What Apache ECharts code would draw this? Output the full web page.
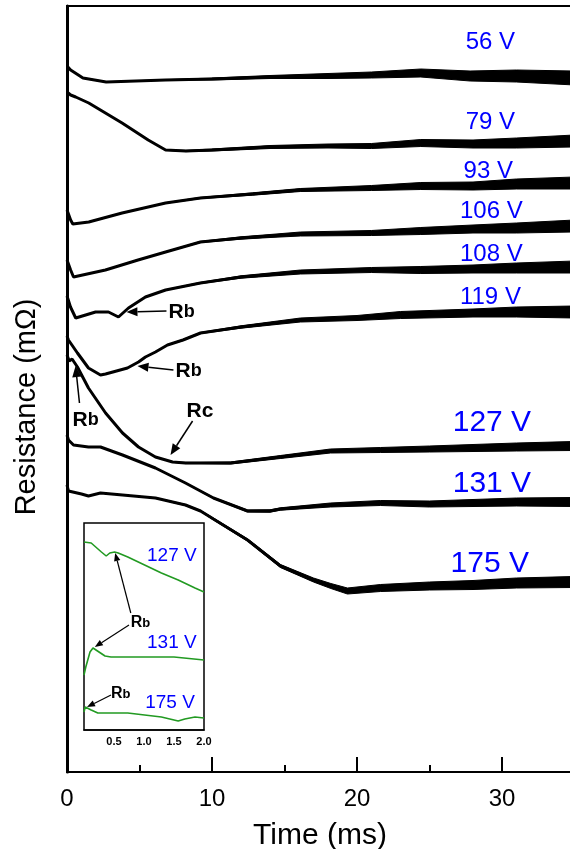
<!DOCTYPE html>
<html><head><meta charset="utf-8">
<script src="https://cdn.jsdelivr.net/npm/echarts@6/dist/echarts.min.js"></script>
<style>html,body{margin:0;padding:0;background:#fff}#c{width:570px;height:849px}</style>
</head><body><div id="c"></div>
<script>
// ---- Main traces: time (ms), vertically offset resistance (arb. units), noise half-width ----
const t56  = [0, 0.25, 1.1, 2.7, 6.8, 10, 14, 18, 21, 24.4, 27.8, 31, 35];
const r56  = [706, 702, 694, 690, 692, 693, 695, 696, 697, 699, 696, 696, 694];
const n56  = [0, 0, 0.3, 0.3, 0.3, 1, 1.5, 2.5, 3, 4, 5, 6, 7];

const t79  = [0, 0.25, 0.6, 1.5, 3.8, 5.6, 6.8, 8.2, 10, 14, 18, 21, 24.4, 28, 31, 35];
const r79  = [680, 677, 675, 669, 649, 632, 622, 621, 622, 625, 626, 626, 629, 628, 629, 631];
const n79  = [0, 0, 0, 0.3, 0.3, 0.3, 0.3, 0.6, 1, 1.5, 2, 2.5, 3.5, 4, 5, 6];

const t93  = [0, 0.25, 0.4, 1.5, 3.8, 6.8, 9.2, 12.8, 16.1, 21, 24.4, 28, 31, 35];
const r93  = [562, 552, 548, 550, 559, 569, 574, 578, 582, 584, 586, 586, 588, 589];
const n93  = [0, 0, 0, 0.3, 0.3, 0.3, 0.6, 1.2, 1.5, 2.5, 3.5, 4, 5, 6];

const t106 = [0, 0.25, 0.45, 2.65, 4.9, 6.8, 9.2, 12, 14, 16.1, 21, 24.4, 28, 31, 35];
const r106 = [512, 502, 495, 502, 512, 520, 530, 534, 536, 538, 539, 541, 543, 544, 546];
const n106 = [0, 0, 0, 0.3, 0.3, 0.3, 0.6, 1.2, 1.5, 2, 2.5, 3.5, 4, 5, 6];

const t108 = [0, 0.24, 0.6, 1.97, 2.86, 3.55, 4.24, 5.41, 6.8, 9.2, 12, 16.1, 21, 24.4, 28, 31, 35];
const r108 = [476, 465, 454, 460, 460, 455, 464, 475, 482, 489, 495, 500, 502, 502, 503, 504, 505];
const n108 = [0, 0, 0, 0, 0, 0, 0, 0.3, 0.3, 0.6, 1.2, 2, 2.5, 3.5, 4, 5, 6];

const t119 = [0, 0.1, 0.72, 1.48, 2.31, 2.66, 4.17, 4.3, 4.93, 5.41, 6.1, 6.93, 8.0, 9.21, 12, 16.1, 20, 23, 28, 31, 35];
const r119 = [436, 432, 419, 404, 397, 398, 404, 405, 410, 415, 420, 427, 432, 439, 445, 452, 454, 457, 459, 460, 460];
const n119 = [0, 0, 0, 0, 0, 0, 0, 0, 0, 0.3, 0.3, 0.3, 0.6, 0.6, 1.2, 2, 2.5, 3.5, 4, 5, 6];

const t127 = [0, 0.15, 0.35, 0.72, 1.48, 2.66, 3.83, 4.93, 6.1, 7.28, 8.17, 9.21, 11.28, 14.72, 18.17, 21.62, 25, 28, 31, 35];
const r127 = [417, 411, 413, 405, 384, 359, 339, 325, 315, 310, 309, 309, 309, 315, 321, 322, 323, 324, 325, 326];
const n127 = [0, 0, 0, 0, 0, 0, 0, 0, 0.3, 0.3, 0.6, 0.6, 1, 1.5, 2, 2.5, 3, 3.5, 4, 4.5];

const t131 = [0, 0.1, 0.45, 1.48, 2.31, 3.83, 6.1, 8.17, 10.1, 12.45, 14, 14.72, 18.17, 21.62, 25, 28, 31, 35];
const r131 = [337, 332, 327, 325, 325, 317, 304, 289, 274, 261, 261, 263, 267, 269, 268, 269, 270, 270];
const n131 = [0, 0, 0, 0, 0, 0, 0.3, 0.3, 0.6, 1, 1.2, 1.2, 2, 2.5, 3, 3.5, 4, 4.5];

const t175 = [0, 0.1, 1.0, 1.48, 2.31, 3.83, 6.1, 8.17, 9.21, 10.1, 12.45, 14.72, 17.0, 18.2, 19.34, 21.62, 25, 28, 31, 35];
const r175 = [287, 281, 278, 276, 279, 277, 274, 267, 261, 253, 232, 206, 192, 186, 181, 184, 186, 187, 189, 190];
const n175 = [0, 0, 0, 0, 0, 0, 0.3, 0.6, 0.6, 1, 1.2, 1.5, 2, 2.5, 3, 3.5, 4, 4.5, 5, 5.5];

// ---- Inset traces (0-2 ms) ----
const it127 = [0, 0.02, 0.12, 0.29, 0.37, 0.43, 0.51, 0.57, 0.73, 1.01, 1.29, 1.57, 1.85, 2.0];
const iv127 = [188, 189, 187, 178, 174, 177, 178, 177, 173, 165, 157, 150, 142, 138];
const it131 = [0, 0.03, 0.1, 0.15, 0.2, 0.35, 0.45, 1.0, 1.5, 2.0];
const iv131 = [55, 63, 78, 82, 80, 74, 73, 73, 73, 70];
const it175 = [0, 0.02, 0.05, 0.12, 0.23, 0.73, 1.29, 1.57, 1.68, 1.85, 2.0];
const iv175 = [18, 23, 24, 20, 17, 17, 13, 9, 11, 13, 12];

// ---- Text annotations ----
const voltLabels = ['56 V', '79 V', '93 V', '106 V', '108 V', '119 V', '127 V', '131 V', '175 V'];
const voltLabelT = [27.5, 27.5, 27.35, 27.1, 27.1, 27.1, 26.6, 26.6, 26.45];
const voltLabelR = [730, 650, 601, 561, 518, 475, 349, 288, 208];
const voltLabelSize = [24, 24, 24, 24, 24, 24, 30, 30, 30];
const insetLabels = ['127 V', '131 V', '175 V'];
const insetLabelT = [1.05, 1.05, 1.02];
const insetLabelR = [174, 87, 27];

const FONT = '"Liberation Sans", Arial, sans-serif';
const chart = echarts.init(document.getElementById('c'));

const mainTraces = [[t56,r56,n56],[t79,r79,n79],[t93,r93,n93],[t106,r106,n106],[t108,r108,n108],
  [t119,r119,n119],[t127,r127,n127],[t131,r131,n131],[t175,r175,n175]];
const insetTraces = [[it127,iv127],[it131,iv131],[it175,iv175]];

const series = [];
mainTraces.forEach(([t, r, n]) => {
  series.push({
    type: 'custom', coordinateSystem: 'cartesian2d', xAxisIndex: 0, yAxisIndex: 0,
    data: t.map((x, i) => [x, r[i]]), silent: true, z: 2,
    renderItem(params, api) {
      if (params.dataIndex !== 0) return null;
      const up = [], lo = [];
      for (let i = 0; i < t.length; i++) {
        up.push(api.coord([t[i], r[i] + n[i]]));
        lo.push(api.coord([t[i], r[i] - n[i]]));
      }
      return { type: 'polygon', shape: { points: up.concat(lo.reverse()) },
        style: { fill: '#000', stroke: '#000', lineWidth: 1 } };
    }
  });
  series.push({
    type: 'line', xAxisIndex: 0, yAxisIndex: 0, data: t.map((x, i) => [x, r[i]]),
    symbol: 'none', lineStyle: { color: '#000', width: 3 }, z: 3, silent: true
  });
});
insetTraces.forEach(([t, r]) => {
  series.push({
    type: 'line', xAxisIndex: 1, yAxisIndex: 1, data: t.map((x, i) => [x, r[i]]),
    symbol: 'none', lineStyle: { color: '#229a22', width: 1.6 }, z: 5, silent: true
  });
});

chart.setOption({
  animation: false,
  backgroundColor: '#fff',
  grid: [
    { left: 67, top: 6, width: 580, height: 766, outerBoundsMode: 'none', containLabel: false,
      show: true, borderColor: '#000', borderWidth: 2, backgroundColor: 'transparent' },
    { left: 84, top: 523, width: 120, height: 207, outerBoundsMode: 'none', containLabel: false,
      show: true, borderColor: '#000', borderWidth: 1.5, backgroundColor: '#fff', z: 4 }
  ],
  xAxis: [
    { gridIndex: 0, type: 'value', min: 0, max: 40, interval: 10,
      axisLine: { lineStyle: { color: '#000', width: 2 } },
      axisTick: { inside: true, length: 15, lineStyle: { color: '#000', width: 2 } },
      minorTick: { show: true, splitNumber: 2, length: 7, lineStyle: { color: '#000', width: 2 } },
      splitLine: { show: false },
      axisLabel: { color: '#000', fontSize: 24, fontFamily: FONT, margin: 15 } },
    { gridIndex: 1, type: 'value', min: 0, max: 2, interval: 0.5, z: 6,
      axisLine: { lineStyle: { color: '#000', width: 1.5 } },
      axisTick: { show: false }, splitLine: { show: false },
      axisLabel: { color: '#000', fontSize: 11, fontWeight: 'bold', fontFamily: FONT, margin: 6,
        formatter: v => v === 0 ? '' : v.toFixed(1) } }
  ],
  yAxis: [
    { gridIndex: 0, type: 'value', min: 0, max: 766,
      axisLine: { show: true, lineStyle: { color: '#000', width: 3 } },
      axisTick: { show: false }, axisLabel: { show: false }, splitLine: { show: false } },
    { gridIndex: 1, type: 'value', min: 0, max: 207, show: false, splitLine: { show: false } }
  ],
  series
});

// ---- annotations in data coordinates ----
const px = (g, t, v) => chart.convertToPixel({ gridIndex: g }, [t, v]);
function arrow(g, a, b, w, hl, hw) {
  const p0 = px(g, a[0], a[1]), p1 = px(g, b[0], b[1]);
  const dx = p1[0] - p0[0], dy = p1[1] - p0[1], L = Math.hypot(dx, dy), ux = dx / L, uy = dy / L;
  const bx = p1[0] - ux * hl, by = p1[1] - uy * hl;
  return [
    { type: 'line', z: 20, shape: { x1: p0[0], y1: p0[1], x2: bx, y2: by }, style: { stroke: '#000', lineWidth: w } },
    { type: 'polygon', z: 20, shape: { points: [p1, [bx - uy * hw, by + ux * hw], [bx + uy * hw, by - ux * hw]] }, style: { fill: '#000' } }
  ];
}
function rtext(g, t, v, main, sub, s1, s2) {
  const p = px(g, t, v);
  return { type: 'text', z: 20, x: p[0], y: p[1], style: {
    text: '{a|' + main + '}{b|' + sub + '}', align: 'left', verticalAlign: 'middle',
    rich: { a: { fontSize: s1, fontWeight: 'bold', fontFamily: FONT, fill: '#000' },
            b: { fontSize: s2, fontWeight: 'bold', fontFamily: FONT, fill: '#000' } } } };
}
const g = [];
voltLabels.forEach((s, i) => {
  const p = px(0, voltLabelT[i], voltLabelR[i]);
  g.push({ type: 'text', z: 20, x: p[0], y: p[1], style: { text: s, fill: '#0000ff',
    fontSize: voltLabelSize[i], fontFamily: FONT, align: 'left', verticalAlign: 'middle' } });
});
insetLabels.forEach((s, i) => {
  const p = px(1, insetLabelT[i], insetLabelR[i]);
  g.push({ type: 'text', z: 20, x: p[0], y: p[1], style: { text: s, fill: '#0000ff',
    fontSize: 19, fontFamily: FONT, align: 'left', verticalAlign: 'middle' } });
});
// main Rb / Rc
g.push(rtext(0, 7.0, 460, 'R', 'b', 21, 18));
g.push(...arrow(0, [6.86, 461], [4.1, 460], 1.5, 11, 4.5));
g.push(rtext(0, 7.48, 401, 'R', 'b', 21, 18));
g.push(...arrow(0, [7.34, 402], [4.86, 406], 1.5, 11, 4.5));
g.push(rtext(0, 0.38, 352, 'R', 'b', 21, 18));
g.push(...arrow(0, [0.86, 369], [0.59, 406], 1.5, 11, 4.5));
g.push(rtext(0, 8.24, 361, 'R', 'c', 21, 21));
g.push(...arrow(0, [8.66, 351], [7.14, 317], 1.5, 11, 4.5));
// inset Rb
g.push(rtext(1, 0.78, 107, 'R', 'b', 16, 13));
g.push(...arrow(1, [0.78, 117], [0.52, 177], 1.2, 8, 3.2));
g.push(...arrow(1, [0.75, 105], [0.18, 83], 1.2, 8, 3.2));
g.push(rtext(1, 0.45, 36, 'R', 'b', 16, 13));
g.push(...arrow(1, [0.45, 35], [0.05, 23], 1.2, 8, 3.2));
// axis titles
g.push({ type: 'text', z: 20, x: 320, y: 836, style: { text: 'Time (ms)', fill: '#000', fontSize: 30,
  fontFamily: FONT, align: 'center', verticalAlign: 'middle' } });
g.push({ type: 'text', z: 20, x: 27, y: 407, rotation: Math.PI / 2, style: { text: 'Resistance (mΩ)', fill: '#000',
  fontSize: 29, fontFamily: FONT, align: 'center', verticalAlign: 'middle' } });
chart.setOption({ graphic: g });
</script>
</body></html>
